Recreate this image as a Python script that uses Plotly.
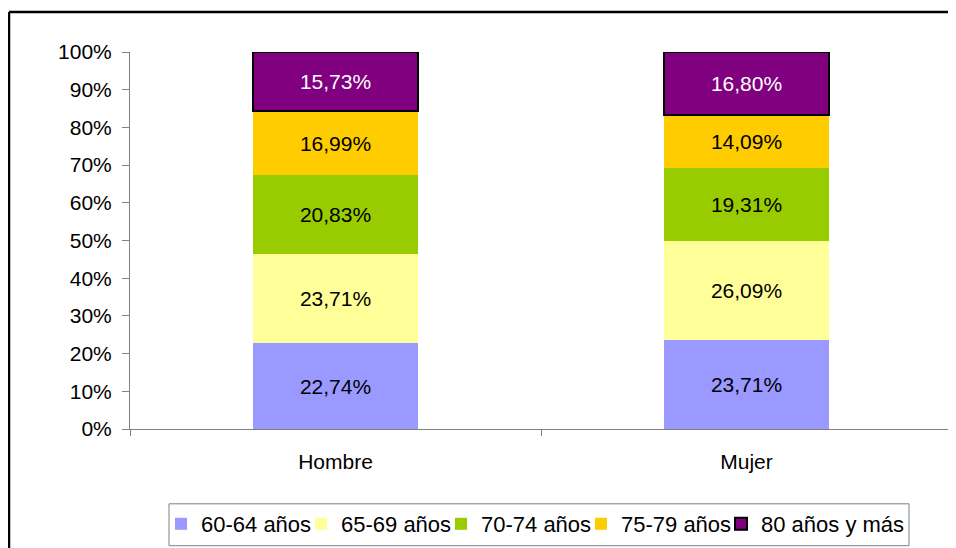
import plotly.graph_objects as go

categories = ["Hombre", "Mujer"]
series_names = ["60-64 años", "65-69 años", "70-74 años", "75-79 años", "80 años y más"]
v_60_64 = [22.74, 23.71]
v_65_69 = [23.71, 26.09]
v_70_74 = [20.83, 19.31]
v_75_79 = [16.99, 14.09]
v_80_mas = [15.73, 16.80]
y_ticks = [0, 10, 20, 30, 40, 50, 60, 70, 80, 90, 100]

series_values = [v_60_64, v_65_69, v_70_74, v_75_79, v_80_mas]
colors = ["#9999FF", "#FFFF99", "#99CC00", "#FFCC00", "#800080"]
text_colors = ["black", "black", "black", "black", "white"]

FONT = "Liberation Sans, Arial, sans-serif"

# page body has an 8px margin: figure origin sits at page (8, 8)
OFF = 8
PL, PR, PT, PB = 130, 952, 52, 430  # plot area in page pixels
W, H = 956 - OFF, 548 - OFF


def px(x):
    return (x - PL) / (PR - PL)


def py(y):
    return (PB - y) / (PB - PT)


legend_ids = ["legend"] + [f"legend{i}" for i in range(2, len(series_names) + 1)]

fig = go.Figure()
for name, vals, col, tcol, lg in zip(series_names, series_values, colors, text_colors, legend_ids):
    is_last = name == "80 años y más"
    fig.add_trace(go.Bar(
        x=categories,
        y=vals,
        name=name,
        width=0.4,
        marker=dict(color=col,
                    line=dict(color="black" if is_last else col, width=2 if is_last else 0)),
        text=[f"{v:.2f}%".replace(".", ",") for v in vals],
        textposition="inside",
        insidetextanchor="middle",
        textfont=dict(family=FONT, size=21, color=tcol),
        constraintext="none",
        hoverinfo="skip",
        legend=lg,
    ))

legend_common = dict(
    orientation="h",
    yanchor="middle",
    y=py(524),
    xanchor="left",
    bgcolor="rgba(0,0,0,0)",
    borderwidth=0,
    itemwidth=30,
    font=dict(family=FONT, size=22, color="black"),
    itemclick=False,
    itemdoubleclick=False,
)
legend_x = [161, 301, 441, 581, 721]

fig.update_layout(
    barmode="stack",
    width=W,
    height=H,
    margin=dict(l=PL - OFF, r=956 - PR, t=PT - OFF, b=548 - PB),
    paper_bgcolor="white",
    plot_bgcolor="white",
    font=dict(family=FONT, size=21, color="black"),
    showlegend=True,
    xaxis=dict(
        type="category",
        range=[-0.5, 1.5],
        showline=True,
        linecolor="#808080",
        linewidth=1,
        ticks="outside",
        tickson="boundaries",
        ticklen=6,
        tickcolor="#808080",
        ticklabelstandoff=14,
        showgrid=False,
        zeroline=False,
        fixedrange=True,
    ),
    yaxis=dict(
        range=[0, 100],
        tickvals=y_ticks,
        ticktext=[f"{t}%" for t in y_ticks],
        showline=True,
        linecolor="#808080",
        linewidth=1,
        ticks="outside",
        ticklen=7,
        tickcolor="#808080",
        ticklabelstandoff=6,
        showgrid=False,
        zeroline=False,
        fixedrange=True,
    ),
)
fig.update_layout(**{lg: dict(x=px(lx), **legend_common) for lg, lx in zip(legend_ids, legend_x)})

# Legend box
fig.add_shape(type="rect", xref="paper", yref="paper",
              x0=px(169), x1=px(909), y0=py(547), y1=py(505),
              line=dict(color="#808080", width=1), fillcolor="rgba(0,0,0,0)")

# Outer chart frame (left and top edges visible in the reference)
fig.add_shape(type="line", xref="paper", yref="paper",
              x0=px(9), x1=px(9), y0=py(560), y1=py(12),
              line=dict(color="black", width=2.5))
fig.add_shape(type="line", xref="paper", yref="paper",
              x0=px(9), x1=px(960), y0=py(12), y1=py(12),
              line=dict(color="black", width=2.5))

fig.write_html("out.html")
